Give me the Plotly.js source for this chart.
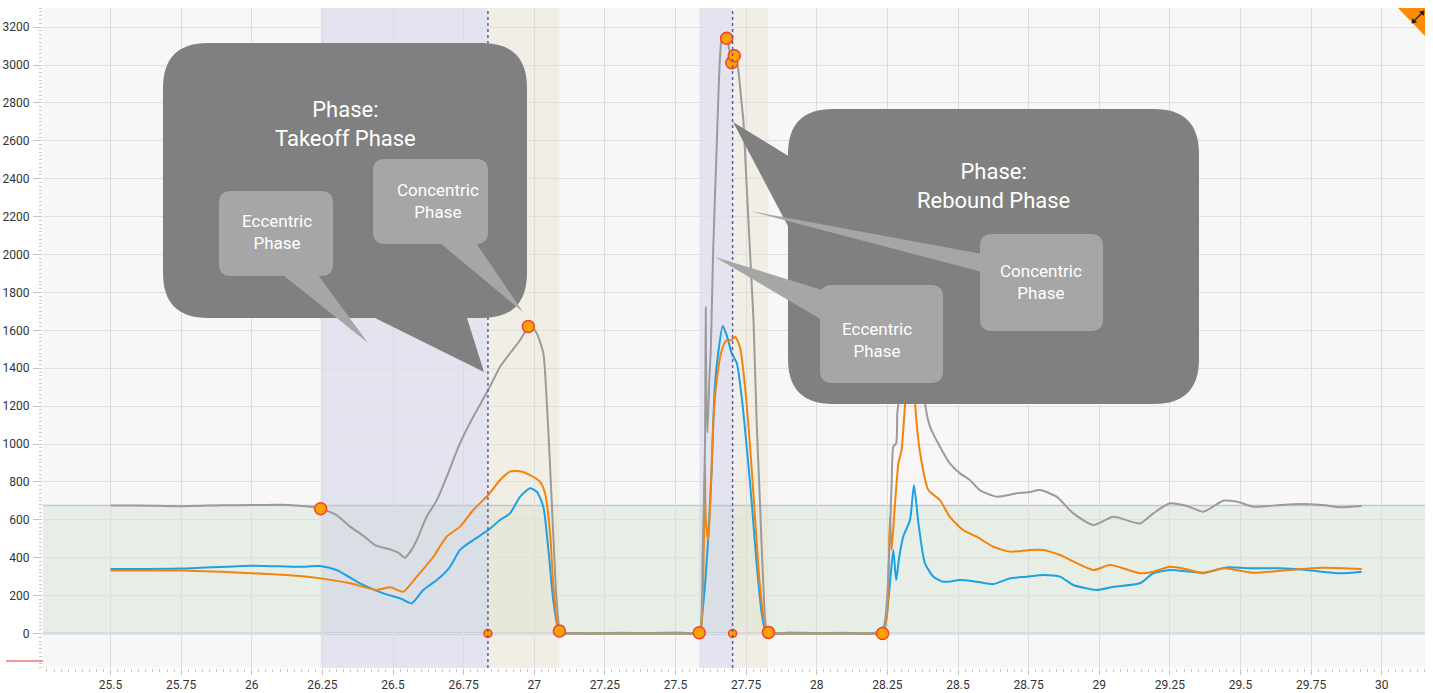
<!DOCTYPE html>
<html><head><meta charset="utf-8">
<script src="https://cdn.plot.ly/plotly-3.0.1.min.js"></script>
<style>html,body{margin:0;padding:0;background:#fff}#chart{width:1433px;height:693px}</style>
</head><body><div id="chart"></div>
<script>
// ---------- data ----------
const grayT = [25.50,25.60,25.75,25.90,26.00,26.10,26.20,26.244,26.30,26.348,26.40,26.436,26.49,26.52,26.542,26.565,26.584,26.619,26.655,26.69,26.737,26.784,26.837,26.879,26.914,26.95,26.979,26.995,27.009,27.032,27.044,27.056,27.067,27.079,27.091,27.10,27.12,27.20,27.30,27.40,27.50,27.575,27.587,27.596,27.604,27.607,27.609,27.613,27.62,27.625,27.633,27.645,27.657,27.666,27.681,27.699,27.711,27.722,27.734,27.74,27.752,27.761,27.770,27.776,27.787,27.799,27.811,27.823,27.84,27.90,28.00,28.10,28.20,28.236,28.259,28.265,28.271,28.281,28.285,28.289,28.30,28.33,28.36,28.383,28.401,28.436,28.471,28.507,28.542,28.577,28.637,28.708,28.75,28.79,28.849,28.908,28.979,29.05,29.144,29.191,29.25,29.31,29.368,29.439,29.487,29.545,29.64,29.71,29.79,29.852,29.929];
const grayV = [675,676,672,677,678,680,670,658,625,564,510,467,444,425,400,440,493,616,704,827,1004,1144,1285,1408,1479,1549,1615,1610,1584,1479,1232,880,529,177,10,-3,3,0,4,2,5,3,15,423,951,1720,1250,1060,1350,1500,2006,2534,3026,3158,3145,3020,3050,2974,2798,2710,2358,2094,1830,1654,1127,689,247,15,-2,5,2,4,1,36,546,792,986,1003,1162,1215,1600,1900,1600,1215,1091,986,898,845,810,757,722,740,745,757,722,634,573,616,581,634,687,673,643,701,696,669,678,683,678,666,673];

const orangeT = [25.50,25.75,26.00,26.17,26.242,26.348,26.442,26.49,26.536,26.584,26.643,26.69,26.737,26.784,26.837,26.879,26.914,26.95,26.985,27.02,27.038,27.056,27.067,27.085,27.095,27.12,27.35,27.55,27.58,27.59,27.604,27.607,27.616,27.625,27.634,27.646,27.664,27.681,27.699,27.711,27.728,27.746,27.764,27.782,27.799,27.817,27.825,27.85,28.03,28.20,28.23,28.248,28.259,28.265,28.277,28.289,28.30,28.312,28.325,28.335,28.348,28.366,28.395,28.436,28.471,28.518,28.566,28.625,28.684,28.75,28.802,28.861,28.979,29.038,29.144,29.191,29.25,29.31,29.368,29.439,29.545,29.64,29.79,29.929];
const orangeV = [333,332,318,303,291,265,230,244,221,300,405,511,564,652,731,810,854,856,836,801,740,529,265,18,0,0,0,0,0,18,898,599,493,775,1126,1338,1496,1549,1549,1566,1513,1302,986,599,247,36,0,0,0,0,0,89,616,441,687,898,968,1197,1500,1700,1215,951,757,704,616,546,511,458,432,440,441,414,335,361,318,326,352,339,318,344,321,331,347,340];

const blueT = [25.50,25.75,26.00,26.17,26.242,26.30,26.383,26.466,26.525,26.566,26.607,26.655,26.702,26.737,26.784,26.837,26.879,26.914,26.95,26.985,27.009,27.032,27.05,27.067,27.085,27.095,27.12,27.35,27.55,27.58,27.587,27.604,27.616,27.628,27.639,27.651,27.667,27.681,27.699,27.717,27.734,27.752,27.770,27.787,27.805,27.817,27.825,27.85,28.03,28.20,28.23,28.242,28.259,28.271,28.281,28.292,28.306,28.33,28.344,28.36,28.383,28.413,28.448,28.507,28.566,28.625,28.684,28.743,28.802,28.861,28.908,28.99,29.05,29.144,29.191,29.25,29.368,29.451,29.545,29.64,29.734,29.852,29.929];
const blueV = [340,343,358,352,356,335,265,212,186,159,230,282,352,441,493,546,599,634,722,766,748,669,441,177,18,0,0,0,0,0,18,247,511,863,1302,1479,1623,1575,1479,1426,1250,986,687,370,107,18,0,0,0,0,0,36,265,441,282,405,511,599,784,581,370,300,273,282,273,261,291,300,309,300,256,230,247,265,318,335,321,349,344,344,335,318,326];

// phase boundaries (time) and their event values
const eccStartT  = [26.244, 27.584];
const eccStartV  = [658, 4];
const eccEndT    = [26.836, 27.702];
const concEndT   = [27.089, 27.829];
const concEndV   = [13, 6];
const peakT      = [26.979, 27.681, 27.699, 27.708];
const peakV      = [1620, 3141, 3012, 3049];
const landT      = [28.233];
const landV      = [0];
const bandTop    = 675;
const lowMark    = -145;

const xTickVals  = [25.5,25.75,26,26.25,26.5,26.75,27,27.25,27.5,27.75,28,28.25,28.5,28.75,29,29.25,29.5,29.75,30];
const xTickText  = ['25.5','25.75','26','26.25','26.5','26.75','27','27.25','27.5','27.75','28','28.25','28.5','28.75','29','29.25','29.5','29.75','30'];

const phaseTitles = ['Phase:<br>Takeoff Phase','Phase:<br>Rebound Phase'];
const subTitles   = ['Eccentric<br>Phase','Concentric<br>Phase','Concentric<br>Phase','Eccentric<br>Phase'];

// ---------- layout helpers ----------
const W=1433,H=693, ML=43, MR=8, MT=8, MB=25;
const PW=W-ML-MR, PH=H-MT-MB;
const X = p => (p-ML)/PW;
const Y = p => (MT+PH-p)/PH;
function rr(x0,y0,x1,y1,r){
  return `M${X(x0+r)},${Y(y0)} L${X(x1-r)},${Y(y0)} Q${X(x1)},${Y(y0)} ${X(x1)},${Y(y0+r)} `+
         `L${X(x1)},${Y(y1-r)} Q${X(x1)},${Y(y1)} ${X(x1-r)},${Y(y1)} `+
         `L${X(x0+r)},${Y(y1)} Q${X(x0)},${Y(y1)} ${X(x0)},${Y(y1-r)} `+
         `L${X(x0)},${Y(y0+r)} Q${X(x0)},${Y(y0)} ${X(x0+r)},${Y(y0)} Z`;
}
function tri(a,b,c){ return `M${X(a[0])},${Y(a[1])} L${X(b[0])},${Y(b[1])} L${X(c[0])},${Y(c[1])} Z`; }

const DARK='#808080', LIGHT='#a6a6a6';
const callouts = [
  {b:[163,43,527,318], r:45, c:DARK,  p:[[375,318],[467,318],[484,372]]},
  {b:[219,191,333,276], r:12, c:LIGHT, p:[[283,275],[318,275],[368,343]]},
  {b:[373,159,488,244], r:12, c:LIGHT, p:[[440,243],[476,243],[523,312]]},
  {b:[788,109,1199,404], r:45, c:DARK, p:[[790,157],[790,230],[733,122]]},
  {b:[980,234,1103,331], r:12, c:LIGHT, p:[[982,254],[982,272],[750,211]]},
  {b:[820,285,943,383], r:12, c:LIGHT, p:[[822,290],[822,320],[715,257]]}
];
const textPos = [
  {x:345,y:124,t:phaseTitles[0],s:22},
  {x:277,y:232,t:subTitles[0],s:17},
  {x:438,y:201,t:subTitles[1],s:17},
  {x:993,y:186,t:phaseTitles[1],s:22},
  {x:1041,y:282,t:subTitles[2],s:17},
  {x:877,y:340,t:subTitles[3],s:17}
];

const shapes = [];
shapes.push({type:'rect',xref:'paper',yref:'y',x0:0,x1:1,y0:0,y1:bandTop,fillcolor:'rgba(200,220,195,0.35)',line:{width:0},layer:'below'});
for(let i=0;i<2;i++){
  shapes.push({type:'rect',xref:'x',yref:'paper',x0:eccStartT[i],x1:eccEndT[i],y0:0,y1:1,fillcolor:'rgba(190,190,230,0.32)',line:{width:0},layer:'below'});
  shapes.push({type:'rect',xref:'x',yref:'paper',x0:eccEndT[i],x1:concEndT[i],y0:0,y1:1,fillcolor:'rgba(230,220,195,0.32)',line:{width:0},layer:'below'});
}
shapes.push({type:'line',xref:'paper',yref:'y',x0:0,x1:1,y0:bandTop,y1:bandTop,line:{color:'#c2c5d8',width:1.5},layer:'below'});
shapes.push({type:'line',xref:'paper',yref:'y',x0:0,x1:1,y0:0,y1:0,line:{color:'#9d9dbd',width:1.5},layer:'below'});
for(let i=0;i<2;i++){
  shapes.push({type:'line',xref:'x',yref:'paper',x0:eccEndT[i],x1:eccEndT[i],y0:0,y1:1,line:{color:'#5a5ac0',width:1.5,dash:'dot'}});
}
shapes.push({type:'line',xref:'paper',yref:'y',x0:X(6),x1:0,y0:lowMark,y1:lowMark,line:{color:'#f07575',width:1.5}});
callouts.forEach(c=>{
  shapes.push({type:'path',xref:'paper',yref:'paper',path:rr(...c.b,c.r),fillcolor:c.c,line:{width:0},layer:'above'});
  shapes.push({type:'path',xref:'paper',yref:'paper',path:tri(...c.p),fillcolor:c.c,line:{width:0},layer:'above'});
});
shapes.push({type:'path',xref:'paper',yref:'paper',path:tri([1398,8],[1425,8],[1425,36]),fillcolor:'#ff8a00',line:{width:0},layer:'above'});
shapes.push({type:'line',xref:'paper',yref:'paper',x0:X(1414),y0:Y(21),x1:X(1422),y1:Y(13),line:{color:'#222',width:1.3},layer:'above'});
shapes.push({type:'path',xref:'paper',yref:'paper',path:tri([1424.5,10.5],[1419,11.5],[1423.5,16]),fillcolor:'#222',line:{width:0},layer:'above'});
shapes.push({type:'path',xref:'paper',yref:'paper',path:tri([1411.5,23.5],[1417,22.5],[1412.5,18]),fillcolor:'#222',line:{width:0},layer:'above'});

const annotations = textPos.map(t=>({xref:'paper',yref:'paper',x:X(t.x),y:Y(t.y),text:t.t,showarrow:false,
  xanchor:'center',yanchor:'middle',align:'center',font:{family:'Roboto, sans-serif',size:t.s,color:'#ffffff'}}));

const mk = {color:'#ffa200',line:{color:'#f2402a',width:1.5}};
const ln = (c)=>({color:c,width:2,shape:'spline',smoothing:0.6});
const traces = [
  {x:blueT,y:blueV,mode:'lines',line:ln('#1ba1e6'),hoverinfo:'skip'},
  {x:orangeT,y:orangeV,mode:'lines',line:ln('#f5820d'),hoverinfo:'skip'},
  {x:grayT,y:grayV,mode:'lines',line:ln('#9b9b9b'),hoverinfo:'skip'},
  {x:eccEndT,y:eccEndT.map(()=>0),mode:'markers',marker:Object.assign({size:8},mk)},
  {x:eccStartT.concat(concEndT,peakT,landT),y:eccStartV.concat(concEndV,peakV,landV),mode:'markers',marker:Object.assign({size:12},mk)}
];

const layout = {
  width:W,height:H,margin:{l:ML,r:MR,t:MT,b:MB},
  paper_bgcolor:'#ffffff',plot_bgcolor:'#f7f7f7',showlegend:false,hovermode:false,
  font:{family:'Roboto, sans-serif',size:12,color:'#333'},
  xaxis:{range:[25.261,30.153],tickmode:'array',tickvals:xTickVals,ticktext:xTickText,
    showgrid:true,gridcolor:'#dcdcdc',gridwidth:1,zeroline:false,showline:false,
    ticks:'outside',ticklen:6,tickcolor:'#c4c4c4',tickfont:{size:12,color:'#333'},
    minor:{tickmode:'linear',tick0:25.5,dtick:0.025,ticks:'outside',ticklen:3,tickcolor:'#c8c8c8',showgrid:false}},
  yaxis:{range:[-182,3301],tick0:0,dtick:200,
    showgrid:true,gridcolor:'#e0e0e0',gridwidth:1,zeroline:false,showline:false,
    ticks:'outside',ticklen:9,tickcolor:'#c4c4c4',tickfont:{size:12,color:'#333'},ticklabelstandoff:1,
    minor:{dtick:20,ticks:'outside',ticklen:3,tickcolor:'#c8c8c8',showgrid:false}},
  shapes:shapes,annotations:annotations
};
Plotly.newPlot('chart',traces,layout,{staticPlot:true,displayModeBar:false});
</script></body></html>
